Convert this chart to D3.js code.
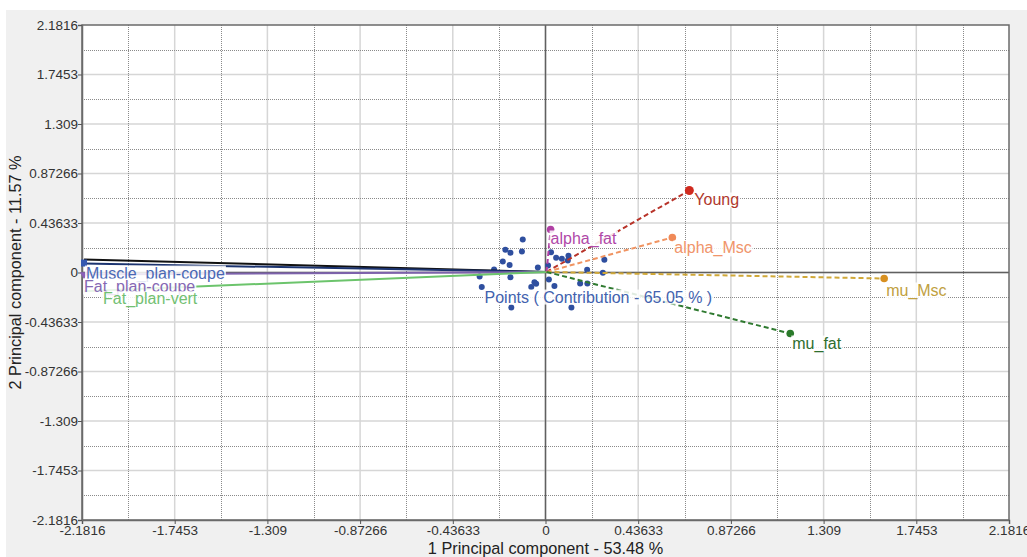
<!DOCTYPE html>
<html>
<head>
<meta charset="utf-8">
<script src="https://cdn.jsdelivr.net/npm/d3@7/dist/d3.min.js"></script>
<style>
  html, body { margin: 0; padding: 0; background: #fff; }
  svg { display: block; font-family: "Liberation Sans", Arial, sans-serif; }
</style>
</head>
<body>
<svg id="chart" width="1027" height="557"></svg>
<script>
// tick values of both axes
var ticks = [-2.1816, -1.7453, -1.309, -0.87266, -0.43633, 0, 0.43633, 0.87266, 1.309, 1.7453, 2.1816];
var tickLabels = ["-2.1816", "-1.7453", "-1.309", "-0.87266", "-0.43633", "0", "0.43633", "0.87266", "1.309", "1.7453", "2.1816"];

// observations (PC1, PC2)
var pointsX = [-0.107, -0.189, -0.165, -0.111, -0.201, -0.169, -0.242, -0.310, -0.300, -0.165, -0.036, -0.052, -0.044, -0.067, 0.042,
               0.026, 0.050, 0.077, 0.108, 0.105, 0.012, 0.277, 0.270, 0.196, 0.163, 0.197, -0.161, 0.122, 0.016];
var pointsY = [0.291, 0.200, 0.174, 0.185, 0.097, 0.066, 0.026, -0.035, -0.128, -0.041, 0.044, -0.086, -0.100, -0.128, -0.119,
               0.179, 0.130, 0.121, 0.147, 0.106, 0.062, 0.112, -0.003, 0.024, -0.097, -0.097, -0.309, -0.309, -0.062];

// variables (loadings)
var varNames = ["", "Muscle_plan-coupe", "Fat_plan-coupe", "Fat_plan-vert", "Young", "alpha_fat", "alpha_Msc", "mu_Msc", "mu_fat"];
var varX = [-2.172, -2.172, -2.172, -2.172, 0.677, 0.024, 0.597, 1.594, 1.152];
var varY = [0.115, 0.079, -0.018, -0.165, 0.723, 0.379, 0.309, -0.053, -0.538];

var pointsLabel = "Points ( Contribution - 65.05 % )";
var xTitle = "1 Principal component - 53.48 %";
var yTitle = "2 Principal component - 11.57 %";

// styles
var varStyle = {
  "":                  {line: "#111111", mark: "#111111", text: "#111",    dash: null,  shape: "none",     dx: 0,  dy: 0},
  "Muscle_plan-coupe": {line: "#1c3470", mark: "#3558b0", text: "#4a68b4", dash: null,  shape: "square",   dx: 2,  dy: 15},
  "Fat_plan-coupe":    {line: "#7d62ac", mark: "#8a5fb8", text: "#8668b4", dash: null,  shape: "triangle", dx: 0,  dy: 17},
  "Fat_plan-vert":     {line: "#6cc46c", mark: "#6cc46c", text: "#72c072", dash: null,  shape: "none",     dx: 19, dy: 13},
  "Young":             {line: "#b8342a", mark: "#d02a1e", text: "#b0382c", dash: "5,3", shape: "circle",   dx: 5,  dy: 15},
  "alpha_fat":         {line: "#b040a4", mark: "#b040a4", text: "#b048a8", dash: "5,3", shape: "circle",   dx: 0,  dy: 14},
  "alpha_Msc":         {line: "#f09462", mark: "#f08a58", text: "#f0946a", dash: "5,3", shape: "circle",   dx: 2,  dy: 16},
  "mu_Msc":            {line: "#d0a838", mark: "#d89020", text: "#c0a040", dash: "5,3", shape: "circle",   dx: 2,  dy: 17},
  "mu_fat":            {line: "#2f7a30", mark: "#2a7a2a", text: "#2e6e2e", dash: "5,3", shape: "circle",   dx: 2,  dy: 15}
};

var svg = d3.select("#chart");
var W = 1027, H = 557;
var plot = {left: 82, right: 1009, top: 25, bottom: 520};

// panel background
svg.append("rect").attr("x", 6).attr("y", 10).attr("width", W - 6).attr("height", H - 10).attr("fill", "#f0f0f0");

var x = d3.scaleLinear().domain([-2.1816, 2.1816]).range([plot.left, plot.right]);
var y = d3.scaleLinear().domain([-2.1816, 2.1816]).range([plot.bottom, plot.top]);

svg.append("rect")
  .attr("x", plot.left).attr("y", plot.top)
  .attr("width", plot.right - plot.left).attr("height", plot.bottom - plot.top)
  .attr("fill", "#fff");

var grid = svg.append("g");
var minor = d3.pairs(ticks).map(function (p) { return (p[0] + p[1]) / 2; });

// major grid
grid.selectAll(".vmaj").data(ticks.slice(1, -1)).enter().append("line")
  .attr("x1", function (d) { return x(d); }).attr("x2", function (d) { return x(d); })
  .attr("y1", plot.top).attr("y2", plot.bottom)
  .attr("stroke", "#d6d6d6").attr("stroke-width", 1.5);
grid.selectAll(".hmaj").data(ticks.slice(1, -1)).enter().append("line")
  .attr("y1", function (d) { return y(d); }).attr("y2", function (d) { return y(d); })
  .attr("x1", plot.left).attr("x2", plot.right)
  .attr("stroke", "#d6d6d6").attr("stroke-width", 1.5);

// minor dotted grid
grid.selectAll(".vmin").data(minor).enter().append("line")
  .attr("x1", function (d) { return Math.round(x(d)) + 0.5; }).attr("x2", function (d) { return Math.round(x(d)) + 0.5; })
  .attr("y1", plot.top).attr("y2", plot.bottom)
  .attr("stroke", "#8a8a8a").attr("stroke-dasharray", "1,1");
grid.selectAll(".hmin").data(minor).enter().append("line")
  .attr("y1", function (d) { return Math.round(y(d)) + 0.5; }).attr("y2", function (d) { return Math.round(y(d)) + 0.5; })
  .attr("x1", plot.left).attr("x2", plot.right)
  .attr("stroke", "#8a8a8a").attr("stroke-dasharray", "1,1");

// zero lines
svg.append("line").attr("x1", x(0)).attr("x2", x(0)).attr("y1", plot.top).attr("y2", plot.bottom)
  .attr("stroke", "#606060").attr("stroke-width", 1.5);
svg.append("line").attr("y1", y(0)).attr("y2", y(0)).attr("x1", plot.left).attr("x2", plot.right)
  .attr("stroke", "#606060").attr("stroke-width", 1.5);

// border
svg.append("rect")
  .attr("x", plot.left).attr("y", plot.top)
  .attr("width", plot.right - plot.left).attr("height", plot.bottom - plot.top)
  .attr("fill", "none").attr("stroke", "#6a6a6a").attr("stroke-width", 1.5);

// axes
var xAxis = d3.axisBottom(x).tickValues(ticks).tickSize(4).tickFormat(function (d, i) { return tickLabels[i]; });
var yAxis = d3.axisLeft(y).tickValues(ticks).tickSize(4).tickFormat(function (d, i) { return tickLabels[i]; });

var gx = svg.append("g").attr("transform", "translate(0," + plot.bottom + ")").call(xAxis);
var gy = svg.append("g").attr("transform", "translate(" + plot.left + ",0)").call(yAxis);
[gx, gy].forEach(function (g) {
  g.select(".domain").attr("stroke", "#6a6a6a").attr("stroke-width", 1.5);
  g.selectAll(".tick line").attr("stroke", "#555");
  g.selectAll(".tick text").attr("fill", "#333").style("font-size", "13.5px").style("font-family", "Liberation Sans, Arial, sans-serif");
});
gx.selectAll(".tick text").attr("dy", "0.6em");
gy.selectAll(".tick text").attr("x", -4);

// observations
var pts = d3.range(pointsX.length);
svg.append("g").selectAll("circle").data(pts).enter().append("circle")
  .attr("cx", function (i) { return x(pointsX[i]); })
  .attr("cy", function (i) { return y(pointsY[i]); })
  .attr("r", 3)
  .attr("fill", "#2f4f9f");

// variable vectors
var vars = d3.range(varNames.length);
var vg = svg.append("g");
vg.selectAll("line").data(vars).enter().append("line")
  .attr("x1", x(0.005)).attr("y1", y(0.005))
  .attr("x2", function (i) { return x(varX[i]); })
  .attr("y2", function (i) { return y(varY[i]); })
  .attr("stroke", function (i) { return varStyle[varNames[i]].line; })
  .attr("stroke-width", 2)
  .attr("stroke-dasharray", function (i) { return varStyle[varNames[i]].dash; });

vars.forEach(function (i) {
  var s = varStyle[varNames[i]];
  var px = x(varX[i]), py = y(varY[i]);
  if (s.shape === "circle") {
    vg.append("circle").attr("cx", px).attr("cy", py).attr("r", varNames[i] === "Young" ? 4.5 : 3.8).attr("fill", s.mark);
  } else if (s.shape === "square") {
    vg.append("rect").attr("x", px - 3).attr("y", py - 4).attr("width", 6).attr("height", 7).attr("fill", s.mark);
  } else if (s.shape === "triangle") {
    vg.append("path").attr("d", d3.symbol(d3.symbolTriangle, 30)()).attr("transform", "translate(" + px + "," + py + ") rotate(180)").attr("fill", s.mark);
  }
});

// labels with white boxes
function boxedText(tx, ty, str, color, size, anchor) {
  var t = svg.append("text").attr("x", tx).attr("y", ty).text(str)
    .attr("fill", color).style("font-size", size + "px").attr("text-anchor", anchor || "start");
  var b = t.node().getBBox();
  svg.insert("rect", function () { return t.node(); })
    .attr("x", b.x - 1).attr("y", b.y + 1).attr("width", b.width + 2).attr("height", b.height - 2)
    .attr("fill", "#fff").attr("fill-opacity", 0.85);
  return t;
}

vars.forEach(function (i) {
  var name = varNames[i];
  if (!name) return;
  var s = varStyle[name];
  boxedText(x(varX[i]) + s.dx, y(varY[i]) + s.dy, name, s.text, 16);
});

boxedText(x(-0.287), y(-0.265), pointsLabel, "#4262ae", 16);

// axis titles
svg.append("text").attr("x", (plot.left + plot.right) / 2).attr("y", 554)
  .attr("text-anchor", "middle").attr("fill", "#222").style("font-size", "16.3px").text(xTitle);
svg.append("text").attr("transform", "translate(21," + (plot.top + plot.bottom) / 2 + ") rotate(-90)")
  .attr("text-anchor", "middle").attr("fill", "#222").style("font-size", "16.3px").text(yTitle);
</script>
</body>
</html>
